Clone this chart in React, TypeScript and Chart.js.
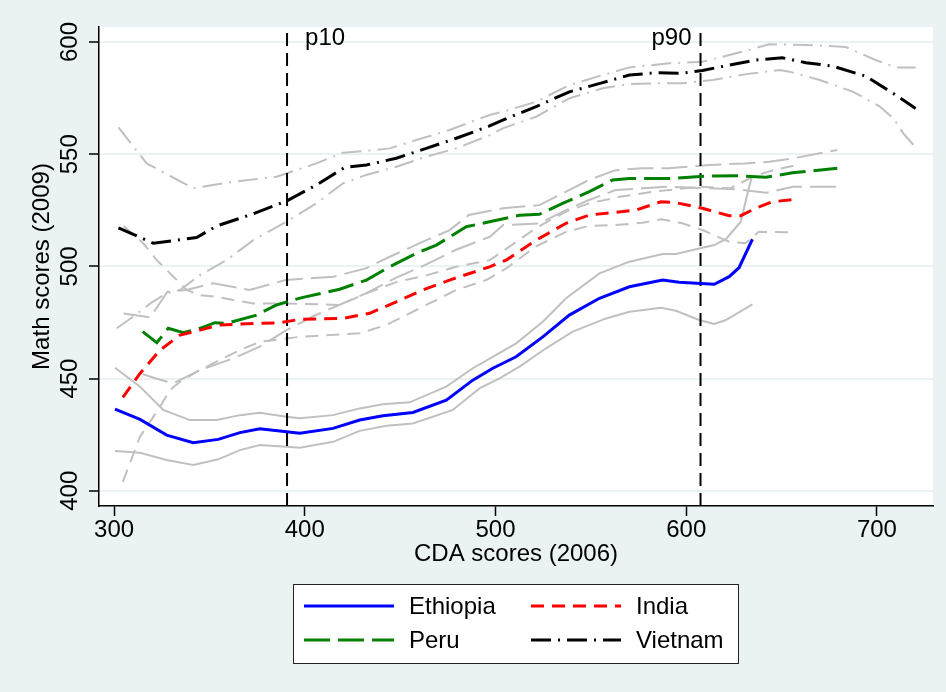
import React, { useEffect, useRef } from "react";
import { Chart, registerables } from "chart.js";

Chart.register(...registerables);

type P = [number, number];

// ---------- data ----------
const xTicks = [300, 400, 500, 600, 700];
const yTicks = [400, 450, 500, 550, 600];
const xRange: P = [292.1, 729.4];
const yRange: P = [393.2, 606.7];
const p10 = 390.7;
const p90 = 607.5;

const ethiopia: P[] = [[300.5,436.4],[313.6,431.8],[327.6,424.8],[341.5,421.4],[354.6,422.9],[366,425.9],[376.4,427.6],[390.4,426.3],[397.4,425.6],[414.8,427.8],[428.8,431.5],[441,433.4],[456.7,434.9],[474.2,440.4],[488.1,449.3],[498.6,454.6],[510.8,459.7],[524.8,468.6],[538.7,478.3],[554.5,485.8],[570.2,490.9],[587.6,493.9],[596.3,492.9],[607.7,492.4],[614.7,492],[622.5,495.4],[627.7,499.4],[634.7,512.1]];
const ethiopiaUpper: P[] = [[300.5,454.8],[313.6,446.4],[325.8,436],[339.8,431.5],[353.8,431.5],[366,433.7],[376.4,434.8],[390.4,433],[397.4,432.3],[414.8,433.7],[428.8,436.7],[441,438.5],[455,439.4],[474.2,446.4],[488.1,454.6],[498.6,459.7],[510.8,465.7],[524.8,475.3],[537,485.8],[554.5,496.9],[570.2,502.1],[587.6,505.5],[594.6,505.5],[606.8,508],[614.7,509.5],[620.8,512.1],[628.6,519.9],[633,535.5],[634.7,540.7]];
const ethiopiaLower: P[] = [[300.5,417.7],[313.6,416.9],[327.6,413.7],[341.5,411.5],[354.6,414],[366,418.1],[376.4,420.4],[390.4,419.6],[397.4,419.2],[414.8,421.8],[428.8,426.7],[442.8,429],[456.7,430],[477.6,436],[491.6,445.6],[502.1,450.1],[512.6,455.3],[526.5,463.5],[540.5,470.9],[558,476.8],[570.2,479.8],[586.8,481.6],[594.6,480.2],[606.8,476.1],[614.7,474.3],[620.8,476.1],[634.7,483.1]];

const india: P[] = [[304.6,441.6],[313.6,452.3],[324.1,462.7],[334.6,469.4],[345,471.6],[355.5,473.9],[366,474.3],[376.4,474.6],[386.9,474.9],[397.4,476.4],[420,476.8],[434,479.1],[448,484.2],[461.9,489.5],[475.9,493.9],[496.9,499.8],[505.6,502.8],[521.3,511.7],[537,519.2],[549.2,522.9],[563.2,524.1],[573.7,525.1],[586.8,528.8],[594.6,528.4],[608.5,525.9],[622.5,522.6],[628.6,522.6],[636.5,525.9],[645.2,528.8],[657.4,529.9]];
const indiaUpper: P[] = [[305,518],[315.3,510.3],[322.4,502.8],[331.1,495.4],[338.1,489.5],[345,487.2],[353.8,486.5],[362.5,485],[373,483.5],[390.4,483.5],[418.3,482.8],[432.3,488],[448,493],[463.7,496],[479.4,499.8],[497,502.8],[506,508],[521,517],[537,524.4],[549,528.1],[565,531],[583,533.3],[607,535.5],[623,534.8],[635,540],[646,543],[657,545]];
const indiaLower: P[] = [[304.6,404],[313.6,424.1],[324.1,437.4],[329.3,444.9],[334.6,448.6],[345,453.8],[355.5,458.3],[366,462.7],[376.4,466.4],[397.4,468.6],[428.8,470.2],[442.8,473.9],[463.7,482.8],[479.4,489.5],[495.1,493.9],[505.6,499.1],[521,508.8],[537,515.4],[549,518.1],[563,518.4],[577,519.5],[587,521],[598,519.2],[608.5,516.2],[622.5,511],[631,510.3],[638,515.4],[657,515.2]];

const peru: P[] = [[315,470.9],[322.4,466],[328.4,472.4],[336.3,470.4],[345,472.4],[352.9,474.9],[359,474.6],[374.7,478.3],[385.2,482.8],[392.1,484.6],[399.1,486.2],[418.3,489.8],[432.3,493.9],[444.5,499.8],[458.5,505.8],[469,509.5],[484.7,517.7],[496.9,519.9],[512.6,522.8],[523,523.2],[535.2,528.1],[549.2,533.3],[561.4,538.5],[570.2,539.2],[591.1,539.2],[612,540.3],[627.7,540.4],[641.7,539.7],[655.7,541.7],[679.2,543.7]];
const peruUpper: P[] = [[305,479],[319,477.3],[328,488.7],[338,489.5],[352,492.5],[371,489.5],[390,493.9],[415,495.4],[432,499.1],[444.5,504.3],[462,511],[476,516.2],[486,522.9],[504,525.9],[523,527.3],[537,533.3],[549,538.5],[563,542.9],[577,543.7],[591,543.7],[612,545.2],[631,545.9],[643.5,546.6],[655.7,548.1],[679.2,551.9]];
const peruLower: P[] = [[315,452],[322,450],[331,447.9],[345,453.8],[362.5,459],[376.4,464.2],[390.4,471.6],[405,478],[418,482.8],[432,488],[448,495],[464,501],[479,507.3],[497,513.2],[504,518.4],[523,519.2],[537,525.1],[549,529.6],[563,534],[577,534.8],[591,535.5],[612,534.8],[627,534.3],[642,532.8],[656,535.5],[679,535.5]];

const vietnam: P[] = [[302.3,517.2],[320.6,510.3],[332.8,511.7],[343.3,512.9],[353.8,518],[371.2,522.9],[390.4,529.1],[406.1,536.3],[420.9,544.1],[432.3,545.2],[448,548.2],[463.7,552.6],[479.4,557.1],[496.9,562.6],[503.8,565.2],[521.3,571.2],[538.7,577.8],[556.2,581.9],[570.2,585.3],[584.1,586.3],[598.1,586.1],[608.5,587.3],[622.5,589.7],[636.5,592],[650.4,593],[662.7,590.8],[676.6,589.3],[694.1,584.8],[708,577.4],[720.3,570.4]];
const vietnamUpper: P[] = [[302.3,562],[317.1,545.9],[341.5,534.8],[362.5,537.7],[385.2,540],[406.1,545.9],[420,550.7],[432.3,551.5],[444.5,552.6],[458.5,556.3],[475.9,560.8],[496.9,567.5],[503.8,568.9],[521.3,573.4],[538.7,580.8],[556.2,585.3],[570.2,588.7],[591.1,590.5],[608.5,591.2],[631.3,596.1],[643.5,599],[662.7,598.7],[683.6,597.8],[699.3,592],[709.8,588.7],[720.3,588.6]];
const vietnamLower: P[] = [[301.4,472.4],[310,477.6],[319,483.5],[327.6,488],[334.6,489.5],[345,496.1],[359,502.8],[373,511.7],[390.4,519.9],[406,528.1],[420,537],[432,540.7],[448,544.4],[463.7,548.9],[479.4,552.6],[497,558.5],[503.8,561.5],[521.3,566.7],[538.7,574.9],[556.2,579.4],[570.2,581.3],[584,581.6],[598,581.6],[614,583.1],[631.4,585.7],[649,587.5],[654,586.8],[670,583.1],[687.6,577.8],[701.6,571.2],[708.6,566],[713.8,559.3],[720.8,552.6]];

const countries = ["Ethiopia", "India", "Peru", "Vietnam"];

// ---------- styles ----------
const FONT = "'Liberation Sans', Arial, Helvetica, sans-serif";
const FS = 24;
const BG = "#EAF2F3";
const GRAY = "#C0C0C0";
const DASH: Record<string, number[]> = {
  Ethiopia: [],
  India: [13, 8],
  Peru: [26, 8],
  Vietnam: [20, 7, 2, 7],
};
const COLOR: Record<string, string> = {
  Ethiopia: "#0000FF",
  India: "#FF0000",
  Peru: "#008000",
  Vietnam: "#000000",
};

const toXY = (pts: P[]) => pts.map(([x, y]) => ({ x, y }));

function meanDs(name: string, pts: P[]) {
  return {
    label: name,
    data: toXY(pts),
    borderColor: COLOR[name],
    borderWidth: 3,
    borderDash: DASH[name],
    pointRadius: 0,
    fill: false,
    tension: 0,
  };
}
function ciDs(name: string, pts: P[]) {
  return {
    label: name + " CI",
    data: toXY(pts),
    borderColor: GRAY,
    borderWidth: 2,
    borderDash: DASH[name],
    pointRadius: 0,
    fill: false,
    tension: 0,
  };
}
function vDs(label: string, x: number) {
  return {
    label,
    data: [{ x, y: yRange[0] }, { x, y: yRange[1] }],
    borderColor: "#000",
    borderWidth: 2,
    borderDash: [13, 7],
    pointRadius: 0,
    fill: false,
  };
}

const decor = {
  id: "decor",
  beforeDraw(chart: any) {
    const { ctx, chartArea: a } = chart;
    ctx.save();
    ctx.fillStyle = BG;
    ctx.fillRect(0, 0, chart.width, chart.height);
    ctx.fillStyle = "#FFFFFF";
    ctx.fillRect(a.left, a.top, a.right - a.left, a.bottom - a.top);
    ctx.restore();
  },
  afterDraw(chart: any) {
    const { ctx, scales } = chart;
    const ys = scales.y;
    const xs = scales.x;
    ctx.save();
    ctx.fillStyle = "#000";
    ctx.font = `${FS}px ${FONT}`;
    // rotated y tick labels
    for (const v of yTicks) {
      ctx.save();
      ctx.translate(70, ys.getPixelForValue(v));
      ctx.rotate(-Math.PI / 2);
      ctx.textAlign = "center";
      ctx.textBaseline = "middle";
      ctx.fillText(String(v), 0, 0);
      ctx.restore();
    }
    // percentile labels
    ctx.textBaseline = "alphabetic";
    ctx.textAlign = "left";
    ctx.fillText("p10", xs.getPixelForValue(p10) + 18, 45);
    ctx.textAlign = "right";
    ctx.fillText("p90", xs.getPixelForValue(p90) - 9, 45);

    // legend
    const bx = 293.5, by = 584.5, bw = 445, bh = 79;
    ctx.fillStyle = "#FFFFFF";
    ctx.fillRect(bx, by, bw, bh);
    ctx.strokeStyle = "#222";
    ctx.lineWidth = 1;
    ctx.setLineDash([]);
    ctx.strokeRect(bx, by, bw, bh);
    const cols = [304, 531];
    const rows = [606, 640];
    countries.forEach((name, i) => {
      const cx = cols[i % 2];
      const cy = rows[Math.floor(i / 2)];
      ctx.beginPath();
      ctx.strokeStyle = COLOR[name];
      ctx.lineWidth = 3;
      ctx.setLineDash(DASH[name]);
      ctx.moveTo(cx, cy);
      ctx.lineTo(cx + 90, cy);
      ctx.stroke();
      ctx.setLineDash([]);
      ctx.fillStyle = "#000";
      ctx.textAlign = "left";
      ctx.textBaseline = "middle";
      ctx.fillText(name, cx + 105, cy + 1);
    });
    ctx.restore();
  },
};

export default function App() {
  const ref = useRef<HTMLCanvasElement>(null);
  useEffect(() => {
    if (!ref.current) return;
    const chart = new Chart(ref.current, {
      type: "line",
      data: {
        datasets: [
          meanDs(countries[0], ethiopia),
          meanDs(countries[1], india),
          meanDs(countries[2], peru),
          meanDs(countries[3], vietnam),
          vDs("p10", p10),
          vDs("p90", p90),
          ciDs("Ethiopia", ethiopiaUpper),
          ciDs("Ethiopia", ethiopiaLower),
          ciDs("India", indiaUpper),
          ciDs("India", indiaLower),
          ciDs("Peru", peruUpper),
          ciDs("Peru", peruLower),
          ciDs("Vietnam", vietnamUpper),
          ciDs("Vietnam", vietnamLower),
        ] as any,
      },
      options: {
        animation: false,
        responsive: false,
        maintainAspectRatio: false,
        devicePixelRatio: 1,
        layout: { padding: { left: 0, top: 27, right: 13, bottom: 116 } },
        plugins: { legend: { display: false }, tooltip: { enabled: false } },
        elements: { line: { borderCapStyle: "butt" } },
        scales: {
          x: {
            type: "linear",
            min: xRange[0],
            max: xRange[1],
            afterBuildTicks: (s: any) => {
              s.ticks = xTicks.map((v) => ({ value: v }));
            },
            afterFit: (s: any) => {
              s.height = 70;
            },
            grid: { drawOnChartArea: false, drawTicks: true, tickLength: 10, tickColor: "#000", tickWidth: 1.5 },
            border: { display: true, color: "#000", width: 1.5 },
            ticks: { color: "#000", font: { family: FONT, size: FS }, padding: 0, maxRotation: 0, autoSkip: false },
            title: { display: true, text: "CDA scores (2006)", color: "#000", font: { family: FONT, size: FS }, padding: { top: 0, bottom: 7 } },
          },
          y: {
            type: "linear",
            min: yRange[0],
            max: yRange[1],
            afterBuildTicks: (s: any) => {
              s.ticks = yTicks.map((v) => ({ value: v }));
            },
            afterFit: (s: any) => {
              s.width = 99;
            },
            grid: { color: BG, lineWidth: 2, drawTicks: true, tickLength: 10, tickColor: "#000", tickWidth: 1.5 },
            border: { display: true, color: "#000", width: 1.5 },
            ticks: { display: false },
            title: { display: true, text: "Math scores (2009)", color: "#000", font: { family: FONT, size: FS }, padding: { top: 28, bottom: 0 } },
          },
        },
      } as any,
      plugins: [decor],
    });
    return () => chart.destroy();
  }, []);
  return (
    <div style={{ position: "fixed", left: 0, top: 0, width: 946, height: 692, background: BG }}>
      <canvas ref={ref} width={946} height={692} style={{ display: "block", width: 946, height: 692 }} />
    </div>
  );
}
